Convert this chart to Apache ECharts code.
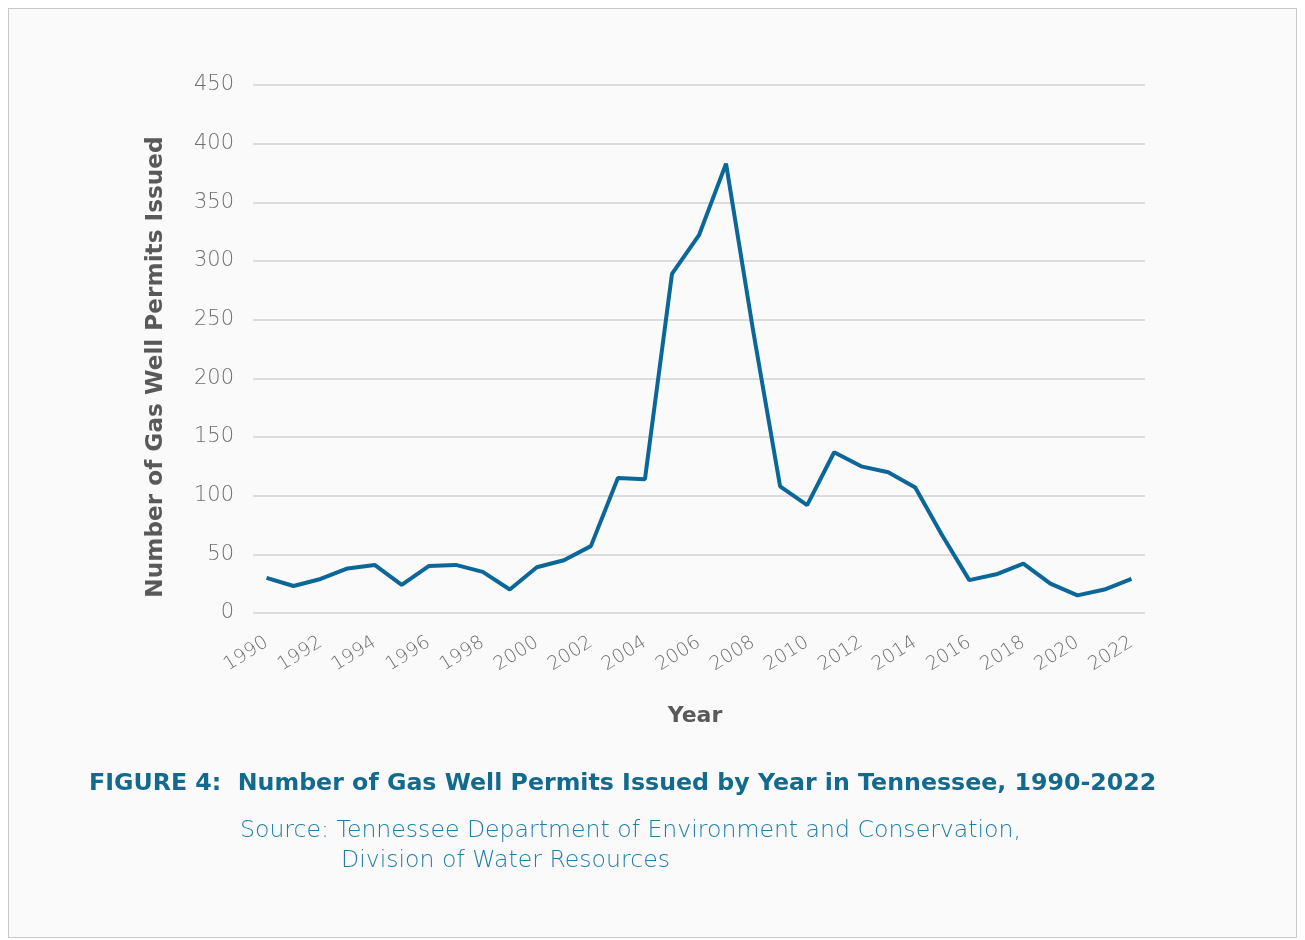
<!DOCTYPE html>
<html>
<head>
<meta charset="utf-8">
<script src="https://cdn.jsdelivr.net/npm/echarts@6/dist/echarts.min.js"></script>
<style>
  html, body { margin: 0; padding: 0; background: #ffffff; }
  #frame {
    position: absolute; left: 8px; top: 8px; width: 1289px; height: 930px;
    border: 1px solid #c8c8c8; background: #fafafa; box-sizing: border-box;
  }
  #main { position: absolute; left: 0; top: 0; width: 1305px; height: 940px; }
</style>
</head>
<body>
<div id="frame"></div>
<div id="main"></div>
<script>
var years = ['1990','1991','1992','1993','1994','1995','1996','1997','1998','1999',
	'2000','2001','2002','2003','2004','2005','2006','2007','2008','2009',
	'2010','2011','2012','2013','2014','2015','2016','2017','2018','2019',
	'2020','2021','2022']
var permits = [30, 23, 29, 38, 41, 24, 40, 41, 35, 20,
	39, 45, 57, 115, 114, 289, 322, 383, 241, 108,
	92, 137, 125, 120, 107, 66, 28, 33, 42, 25,
	15, 20, 29]

var figureTitle = 'FIGURE 4:  Number of Gas Well Permits Issued by Year in Tennessee, 1990-2022'
var sourceLine1 = 'Source: Tennessee Department of Environment and Conservation,'
var sourceLine2 = 'Division of Water Resources'

var font = 'DejaVu Sans'
var myChart = echarts.init(document.getElementById('main'))

var option = {
	animation : false,
	title : [ {
		text : figureTitle,
		left : 89,
		top : 772,
		padding : 0,
		textStyle : {
			fontFamily : font,
			fontSize : 23.7,
			fontWeight : 'bold',
			color : '#136a8f'
		}
	}, {
		text : sourceLine1,
		left : 240,
		top : 819,
		padding : 0,
		textStyle : {
			fontFamily : font,
			fontSize : 23.6,
			fontWeight : 200,
			color : '#1f7fa8'
		}
	}, {
		text : sourceLine2,
		left : 341,
		top : 849,
		padding : 0,
		textStyle : {
			fontFamily : font,
			fontSize : 23.6,
			fontWeight : 200,
			color : '#1f7fa8'
		}
	} ],
	grid : {
		left : 253,
		right : 160,
		top : 85,
		bottom : 327
	},
	xAxis : {
		type : 'category',
		data : years,
		boundaryGap : true,
		name : 'Year',
		nameLocation : 'middle',
		nameGap : 92,
		nameTextStyle : {
			fontFamily : font,
			fontSize : 22,
			fontWeight : 'bold',
			color : '#595959',
			padding : [0, 8, 0, 0]
		},
		axisLine : { show : false },
		axisTick : { show : false },
		axisLabel : {
			interval : 1,
			rotate : 32,
			margin : 28,
			fontFamily : font,
			fontWeight : 200,
			fontSize : 19,
			color : '#6f6f6f'
		}
	},
	yAxis : {
		type : 'value',
		min : 0,
		max : 450,
		interval : 50,
		name : 'Number of Gas Well Permits Issued',
		nameLocation : 'middle',
		nameGap : 86,
		nameTextStyle : {
			fontFamily : font,
			fontSize : 23.2,
			fontWeight : 'bold',
			color : '#595959',
			padding : [0, 36, 0, 0]
		},
		axisLine : { show : false },
		axisTick : { show : false },
		axisLabel : {
			margin : 19,
			fontFamily : font,
			fontWeight : 200,
			fontSize : 21,
			color : '#6f6f6f'
		},
		splitLine : {
			lineStyle : {
				color : '#dcdcdc',
				width : 2
			}
		}
	},
	series : [ {
		name : 'Permits',
		type : 'line',
		data : permits,
		symbol : 'none',
		lineStyle : {
			color : '#0a6797',
			width : 4
		}
	} ]
}
myChart.setOption(option)
</script>
</body>
</html>
